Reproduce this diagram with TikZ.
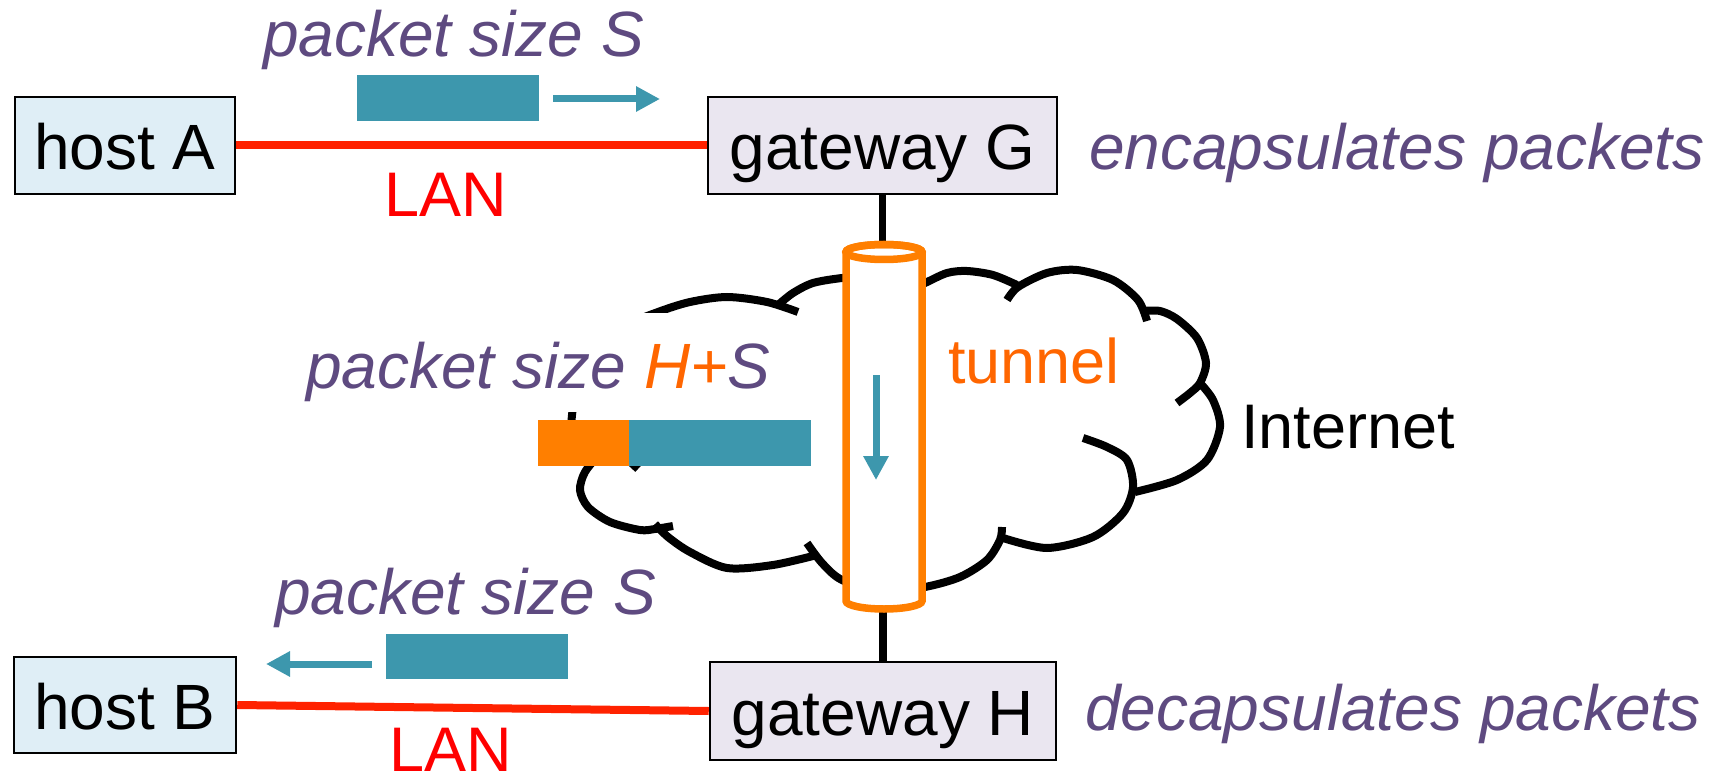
\documentclass[tikz,border=0pt]{standalone}
\usepackage{fontspec}
\setmainfont{Liberation Sans}
\usetikzlibrary{arrows.meta}
\definecolor{txtpurple}{HTML}{5E4A80}
\definecolor{lanred}{HTML}{FF2200}
\definecolor{labred}{HTML}{FF0000}
\definecolor{tunorange}{HTML}{FF7F00}
\definecolor{txtorange}{HTML}{FF6600}
\definecolor{pkteal}{HTML}{3D97AD}
\definecolor{hostfill}{HTML}{DFEEF6}
\definecolor{gwfill}{HTML}{EAE6F0}
\begin{document}
\begin{tikzpicture}[x=1pt,y=-1pt,
  box/.style={draw=black, line width=2.5pt, inner sep=0pt, text height=48pt, text depth=0pt, font=\fontsize{64}{70}\selectfont},
  hostbox/.style={box, fill=hostfill},
  gwbox/.style={box, fill=gwfill},
  lan/.style={draw=lanred, line width=8pt},
  link/.style={draw=black, line width=7.5pt},
  cloudline/.style={draw=black, line width=8pt},
  tunnelline/.style={draw=tunorange, line width=7.5pt},
  packet/.style={fill=pkteal, inner sep=0pt},
  header/.style={fill=tunorange, inner sep=0pt},
  flow/.style={draw=pkteal, line width=7pt, -{Triangle[length=24pt,width=24pt]}},
  note/.style={font=\fontsize{64}{70}\selectfont\itshape, text=txtpurple, inner sep=0pt, anchor=base west},
  word/.style={font=\fontsize{63}{70}\selectfont, inner sep=0pt}]
\useasboundingbox (0,0) rectangle (1717,778);

% boxes
\node[hostbox, minimum width=220pt, minimum height=97pt] (hostA) at (125,145.5) {host A};
\node[gwbox, minimum width=349pt, minimum height=97pt] (gwG) at (882.5,145.5) {gateway G};
\node[hostbox, minimum width=222pt, minimum height=96pt] (hostB) at (125,705) {host B};
\node[gwbox, minimum width=346pt, minimum height=98pt] (gwH) at (883,711) {gateway H};

% LANs
\draw[lan] (hostA.east) -- (gwG.west);
\draw[lan] (hostB.east) -- (gwH.west);

% cloud
\draw[cloudline] plot[smooth] coordinates {(571,440) (572,415) (578,382) (597,350) (625,326) (658,312) (690,302) (727,297) (767,302) (798,312)};
\draw[cloudline] plot[smooth] coordinates {(778,305) (793,293) (813,283) (842,278) (872,276)};
\draw[cloudline] plot[smooth] coordinates {(905,292) (925,283) (947,273) (967,271) (993,275) (1017,285)};
\draw[cloudline] plot[smooth] coordinates {(1007,300) (1018,287) (1047,273) (1077,270) (1113,280) (1138,300) (1147,321)};
\draw[cloudline] plot[smooth] coordinates {(1143,311) (1160,311) (1177,319) (1197,338) (1206,363) (1200,383) (1190,393) (1177,403)};
\draw[cloudline] plot[smooth] coordinates {(1200,383) (1213,400) (1220,427) (1207,460) (1177,480) (1135,492)};
\draw[cloudline] plot[smooth] coordinates {(1083,438) (1107,447) (1127,460) (1133,487) (1123,513) (1093,537) (1047,548) (1003,538)};
\draw[cloudline] plot[smooth] coordinates {(1002,527) (1000,540) (987,560) (960,577) (925,587) (883,592) (842,580) (822,563) (807,543)};
\draw[cloudline] plot[smooth] coordinates {(817,555) (773,565) (727,568) (690,552) (668,537) (655,524)};
\draw[cloudline] plot[smooth] coordinates {(673,526) (655,529) (640,530) (610,522) (588,507) (580,490) (585,472) (600,455) (620,446)};
\draw[cloudline] plot[smooth] coordinates {(615,452) (628,460) (638,469)};

% links to tunnel
\coordinate (tunTop) at (882.5,248);
\coordinate (tunBot) at (883,606);
\draw[link] (gwG.south) -- (tunTop);
\draw[link] (tunBot) -- (gwH.north);

% tunnel
\draw[tunnelline, fill=white] (846,252) -- (846,601) arc[start angle=180, end angle=360, x radius=38pt, y radius=8pt] -- (922,252) arc[start angle=0, end angle=180, x radius=38pt, y radius=7.5pt] -- cycle;
\draw[tunnelline] (884,252) ellipse[x radius=38pt, y radius=7.5pt];
\coordinate (t1) at (876,375);
\coordinate (t2) at (876,480);
\draw[flow] (t1) -- (t2);

% encapsulated packet
\node[note, fill=white, text height=75pt, text depth=24pt] (hs) at (306,388) {packet size \textcolor{txtorange}{H+}S};
\node[header, minimum width=91pt, minimum height=46pt] (hdr) at (583.5,443) {};
\node[packet, minimum width=182pt, minimum height=46pt] (pkt2) at (720,443) {};

% top packet
\node[packet, minimum width=182pt, minimum height=46pt] (pkt1) at (448,98) {};
\coordinate (a1s) at (553,99);
\coordinate (a1e) at (660,99);
\draw[flow] (a1s) -- (a1e);
% bottom packet
\node[packet, minimum width=182pt, minimum height=45pt] (pkt3) at (477,656.5) {};
\coordinate (a3s) at (372,664);
\coordinate (a3e) at (266,664);
\draw[flow] (a3s) -- (a3e);

% labels
\node[note] (ps1) at (263,57) {packet size S};
\node[note] (ps3) at (275,614) {packet size S};
\node[note] (encap) at (1089,170) {encapsulates packets};
\node[note] (decap) at (1085,730) {decapsulates packets};
\node[word, text=labred, anchor=base] (lan1) at (446,217) {LAN};
\node[word, text=labred, anchor=base] (lan2) at (451,771) {LAN};
\node[word, text=txtorange, anchor=base west] (tun) at (948,383) {tunnel};
\node[word, anchor=base west] (inet) at (1241,448) {Internet};
\end{tikzpicture}
\end{document}
